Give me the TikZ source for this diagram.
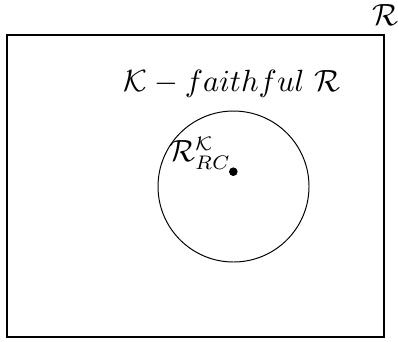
\documentclass[tikz,border=0pt]{standalone}
\begin{document}
\begin{tikzpicture}[x=0.357pt,y=-0.357pt,
  lbl/.style={inner sep=0pt,font=\fontsize{10.7}{13}\selectfont}]
\useasboundingbox (0,0) rectangle (398,341);
\draw[line width=0.4pt] (7,35) rectangle (384,337);
\node[lbl] (top) at (385,15) {$\mathcal{R}$};
\node[lbl] (kf) at (232,84) {$\mathcal{K} - faithful\ \mathcal{R}$};
\draw[line width=0.35pt] (233.5,186.5) circle[radius=75.5];
\fill (233.3,171.7) circle[radius=4.3];
\node[lbl] (rc) at (200,153) {$\mathcal{R}^{\mathcal{K}}_{RC}$};
\end{tikzpicture}
\end{document}
